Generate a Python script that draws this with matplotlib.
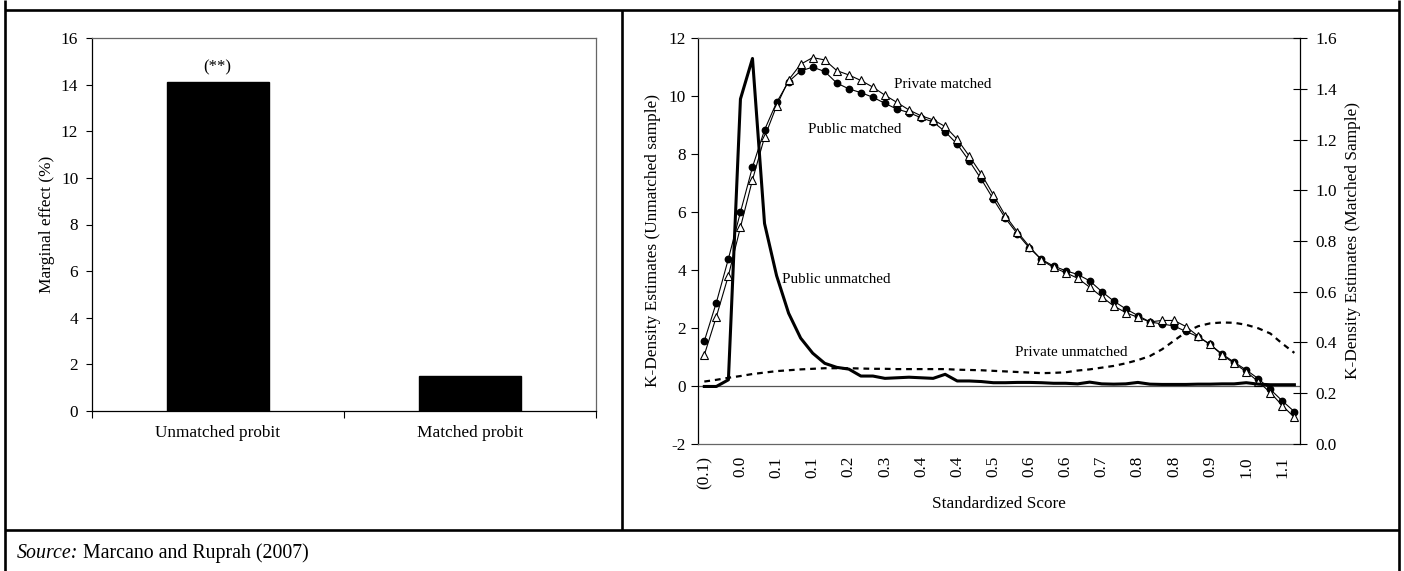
import matplotlib
matplotlib.use("Agg")
import matplotlib.pyplot as plt
from matplotlib.lines import Line2D
import numpy as np

plt.rcParams['font.family'] = ['Liberation Serif', 'DejaVu Serif']

# ---------------- data ----------------
bar_categories = ["Unmatched probit", "Matched probit"]
bar_values = [14.1, 1.5]
bar_annotation = "(**)"

score_tick_labels = ["(0.1)", "0.0", "0.1", "0.1", "0.2", "0.3", "0.4", "0.4", "0.5",
                     "0.6", "0.6", "0.7", "0.8", "0.8", "0.9", "1.0", "1.1"]
n_points = 50
label_step = 3

public_matched = [1.54, 2.87, 4.38, 5.99, 7.55, 8.83, 9.78, 10.50, 10.87, 11.00,
                  10.85, 10.45, 10.25, 10.12, 9.96, 9.75, 9.55, 9.43, 9.25, 9.11,
                  8.77, 8.34, 7.76, 7.13, 6.44, 5.78, 5.24, 4.75, 4.36, 4.13,
                  3.97, 3.84, 3.62, 3.25, 2.92, 2.65, 2.42, 2.20, 2.13, 2.06,
                  1.87, 1.69, 1.42, 1.09, 0.81, 0.54, 0.24, -0.13, -0.53, -0.90]
private_matched = [1.06, 2.38, 3.80, 5.47, 7.11, 8.58, 9.66, 10.56, 11.10, 11.33,
                   11.25, 10.88, 10.73, 10.54, 10.31, 10.03, 9.78, 9.52, 9.32, 9.18,
                   8.95, 8.51, 7.93, 7.31, 6.59, 5.87, 5.31, 4.80, 4.34, 4.08,
                   3.90, 3.71, 3.40, 3.07, 2.75, 2.52, 2.36, 2.20, 2.25, 2.25,
                   2.04, 1.71, 1.42, 1.06, 0.77, 0.48, 0.14, -0.24, -0.69, -1.10]
public_unmatched = [-0.03, -0.03, 0.20, 9.90, 11.30, 5.60, 3.80, 2.50, 1.64, 1.12,
                    0.77, 0.63, 0.57, 0.33, 0.33, 0.25, 0.27, 0.29, 0.27, 0.25,
                    0.39, 0.16, 0.16, 0.14, 0.10, 0.10, 0.11, 0.11, 0.10, 0.08,
                    0.08, 0.06, 0.12, 0.06, 0.05, 0.06, 0.11, 0.05, 0.04, 0.04,
                    0.04, 0.05, 0.05, 0.06, 0.06, 0.10, 0.05, 0.03, 0.03, 0.03]
private_unmatched = [0.14, 0.20, 0.27, 0.33, 0.40, 0.45, 0.50, 0.53, 0.56, 0.58,
                     0.60, 0.60, 0.60, 0.59, 0.58, 0.58, 0.57, 0.57, 0.57, 0.57,
                     0.57, 0.55, 0.54, 0.53, 0.51, 0.49, 0.47, 0.45, 0.43, 0.44,
                     0.46, 0.52, 0.56, 0.62, 0.68, 0.77, 0.88, 1.02, 1.25, 1.55,
                     1.85, 2.05, 2.15, 2.18, 2.17, 2.10, 1.98, 1.80, 1.45, 1.13]

left_yticks = [0, 2, 4, 6, 8, 10, 12, 14, 16]
kd_yticks = [-2, 0, 2, 4, 6, 8, 10, 12]
kd2_yticks = [0.0, 0.2, 0.4, 0.6, 0.8, 1.0, 1.2, 1.4, 1.6]

# ---------------- figure ----------------
W, H = 1404, 571
fig = plt.figure(figsize=(W / 100, H / 100), dpi=100)

def fx(px):
    return px / W

def fy(py):
    return 1 - py / H

FS = 12.4
FA = 10.8

# ---- left bar chart ----
L1, R1, T1, B1 = 91.5, 596, 38, 411
ax1 = fig.add_axes([fx(L1), fy(B1), fx(R1) - fx(L1), fy(T1) - fy(B1)])
xpos = np.arange(len(bar_categories))
ax1.bar(xpos, bar_values, width=0.405, color='black', edgecolor='black', zorder=3)
ax1.set_xlim(-0.5, len(bar_categories) - 0.5)
ax1.set_ylim(0, 16)
ax1.set_yticks(left_yticks)
ax1.set_yticklabels([str(v) for v in left_yticks], fontsize=FS)
ax1.tick_params(axis='y', direction='out', length=4.5, width=0.8, pad=5)
ax1.set_xticks(xpos)
ax1.set_xticklabels(bar_categories, fontsize=FS)
ax1.tick_params(axis='x', length=0, pad=10)
ax1.set_xticks([-0.5, 0.5, 1.5], minor=True)
ax1.tick_params(axis='x', which='minor', direction='out', length=5, width=0.8)
for s in ['top', 'right']:
    ax1.spines[s].set_color('#666666')
    ax1.spines[s].set_linewidth(0.9)
for s in ['left', 'bottom']:
    ax1.spines[s].set_color('black')
    ax1.spines[s].set_linewidth(0.9)
ax1.set_ylabel("Marginal effect (%)", fontsize=FS)
ax1.yaxis.set_label_coords((47 - L1) / (R1 - L1), 0.5)
ax1.yaxis.label.set_va('center')
ax1.annotate(bar_annotation, xy=(xpos[0], bar_values[0]), xytext=(0, 5),
             textcoords='offset points', ha='center', va='bottom', fontsize=12)

# ---- right density chart ----
L2, R2, T2, B2 = 698.3, 1300.4, 38.2, 443.5
ax2 = fig.add_axes([fx(L2), fy(B2), fx(R2) - fx(L2), fy(T2) - fy(B2)])
xs = np.arange(n_points)
ax2.set_xlim(-0.5, n_points - 0.5)
ax2.set_ylim(-2, 12)
ax2.axhline(0, color='#555555', lw=0.9, zorder=1)
ax2.plot(xs, private_unmatched, color='black', lw=1.6, linestyle=(0, (2.6, 2.2)),
         zorder=2)
ax2.plot(xs, public_matched, color='black', lw=0.8, marker='o', markersize=4.6,
         markerfacecolor='black', markeredgecolor='black', zorder=4)
ax2.plot(xs, private_matched, color='black', lw=0.8, marker='^', markersize=5.2,
         markerfacecolor='white', markeredgecolor='black', markeredgewidth=0.8,
         zorder=4)
ax2.plot(xs, public_unmatched, color='black', lw=2.2, solid_joinstyle='round',
         zorder=5)

ax2.set_yticks(kd_yticks)
ax2.set_yticklabels([str(v) for v in kd_yticks], fontsize=FS)
ax2.tick_params(axis='y', direction='out', length=5, width=0.8, pad=4)
tick_idx = xs[::label_step]
ax2.set_xticks(tick_idx)
ax2.set_xticklabels(score_tick_labels, rotation=90, fontsize=FS)
ax2.tick_params(axis='x', length=0, pad=9)
ax2.set_xlabel("Standardized Score", fontsize=FS)
ax2.xaxis.set_label_coords(0.5, (B2 - 504) / (B2 - T2))
ax2.xaxis.label.set_va('center')
ax2.set_ylabel("K-Density Estimates (Unmatched sample)", fontsize=FS)
ax2.yaxis.set_label_coords((653 - L2) / (R2 - L2), 0.5)
ax2.yaxis.label.set_va('center')
for s in ['top', 'bottom']:
    ax2.spines[s].set_color('#666666')
    ax2.spines[s].set_linewidth(0.9)
ax2.spines['left'].set_color('black')
ax2.spines['left'].set_linewidth(0.9)
ax2.spines['right'].set_visible(False)

ax3 = ax2.twinx()
ax3.set_ylim(0, 1.6)
ax3.set_yticks(kd2_yticks)
ax3.set_yticklabels([f"{v:.1f}" for v in kd2_yticks], fontsize=FS)
ax3.tick_params(axis='y', direction='inout', length=10, width=0.8, pad=6)
ax3.set_ylabel("K-Density Estimates (Matched Sample)", fontsize=FS)
ax3.yaxis.set_label_coords((1353 - L2) / (R2 - L2), 0.5)
ax3.yaxis.label.set_va('center')
for s in ['top', 'bottom', 'left']:
    ax3.spines[s].set_visible(False)
ax3.spines['right'].set_color('black')
ax3.spines['right'].set_linewidth(0.9)

ax2.text(15.75, 10.40, "Private matched", fontsize=FA, ha='left', va='center')
ax2.text(12.5, 8.83, "Public matched", fontsize=FA, ha='center', va='center')
ax2.text(10.94, 3.65, "Public unmatched", fontsize=FA, ha='center', va='center')
ax2.text(30.5, 1.13, "Private unmatched", fontsize=FA, ha='center', va='center')

# ---- table-like frame ----
lw_frame = 1.9
frame_lines = [
    ((fx(5), fx(5)), (0, 1)),
    ((fx(1398.5), fx(1398.5)), (0, 1)),
    ((fx(5), fx(1398.5)), (fy(10), fy(10))),
    ((fx(5), fx(1398.5)), (fy(530), fy(530))),
    ((fx(622), fx(622)), (fy(10), fy(530))),
]
for xx, yy in frame_lines:
    fig.add_artist(Line2D(xx, yy, transform=fig.transFigure, color='black',
                          lw=lw_frame, solid_capstyle='butt'))

fig.text(fx(17), fy(553), "Source:", fontsize=14.3, style='italic',
         ha='left', va='center')
fig.text(fx(82.7), fy(553), "Marcano and Ruprah (2007)", fontsize=14.3,
         ha='left', va='center')

fig.savefig("out.png", dpi=100)
